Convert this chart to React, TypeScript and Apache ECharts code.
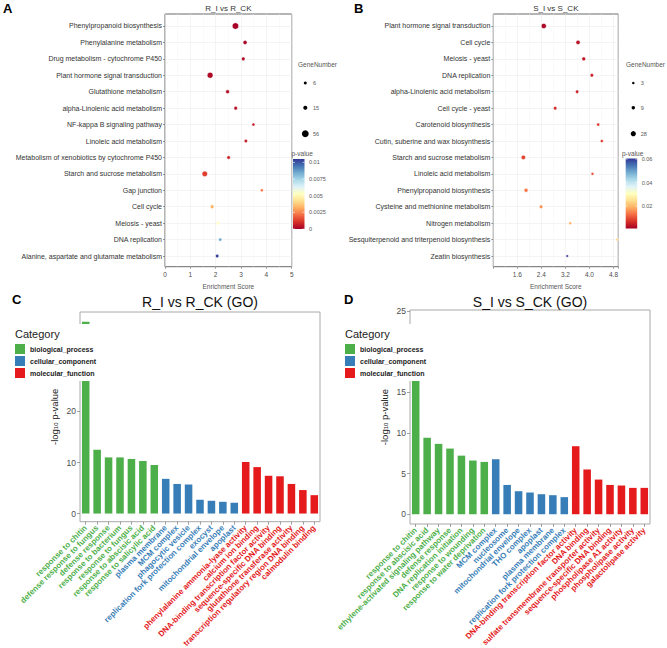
import React, { useEffect, useRef } from "react";
import * as echarts from "echarts";

const FONT = "'Liberation Sans', Arial, sans-serif";

// ---------- Panel A: KEGG enrichment, R_I vs R_CK ----------
const aPathways = [
  "Phenylpropanoid biosynthesis",
  "Phenylalanine metabolism",
  "Drug metabolism - cytochrome P450",
  "Plant hormone signal transduction",
  "Glutathione metabolism",
  "alpha-Linolenic acid metabolism",
  "NF-kappa B signaling pathway",
  "Linoleic acid metabolism",
  "Metabolism of xenobiotics by cytochrome P450",
  "Starch and sucrose metabolism",
  "Gap junction",
  "Cell cycle",
  "Meiosis - yeast",
  "DNA replication",
  "Alanine, aspartate and glutamate metabolism",
];
const aScore = [2.78, 3.16, 3.09, 1.78, 2.47, 2.79, 3.49, 3.19, 2.51, 1.57, 3.82, 1.86, 2.09, 2.18, 2.06];
const aPValue = [0.00005, 0.0001, 0.0002, 0.0002, 0.0003, 0.0004, 0.0006, 0.0006, 0.0008, 0.0013, 0.0022, 0.0033, 0.0052, 0.0085, 0.0105];
const aGeneNumber = [50, 15, 10, 40, 12, 10, 6, 8, 10, 35, 6, 12, 7, 8, 8];
const aSizeBreaks = [6, 15, 56];
const aColorBreaks = [0, 0.0025, 0.005, 0.0075, 0.01];
const aColorLabels = ["0", "0.0025", "0.005", "0.0075", "0.01"];

// ---------- Panel B: KEGG enrichment, S_I vs S_CK ----------
const bPathways = [
  "Plant hormone signal transduction",
  "Cell cycle",
  "Meiosis - yeast",
  "DNA replication",
  "alpha-Linolenic acid metabolism",
  "Cell cycle - yeast",
  "Carotenoid biosynthesis",
  "Cutin, suberine and wax biosynthesis",
  "Starch and sucrose metabolism",
  "Linoleic acid metabolism",
  "Phenylpropanoid biosynthesis",
  "Cysteine and methionine metabolism",
  "Nitrogen metabolism",
  "Sesquiterpenoid and triterpenoid biosynthesis",
  "Zeatin biosynthesis",
];
const bScore = [2.48, 3.62, 3.81, 4.08, 3.59, 2.86, 4.29, 4.41, 1.8, 4.1, 1.89, 2.39, 3.36, 4.92, 3.26];
const bPValue = [0.002, 0.003, 0.004, 0.005, 0.005, 0.006, 0.007, 0.008, 0.009, 0.01, 0.014, 0.016, 0.019, 0.023, 0.0605];
const bGeneNumber = [28, 16, 12, 9, 8, 9, 6, 6, 18, 5, 14, 10, 5, 4, 3];
const bSizeBreaks = [3, 9, 28];
const bColorBreaks = [0.02, 0.04, 0.06];
const bColorLabels = ["0.02", "0.04", "0.06"];

// ---------- Panel C: GO enrichment, R_I vs R_CK ----------
const cTerms = [
  "response to chitin",
  "defense response to fungus",
  "defense response",
  "response to bacterium",
  "response to fungus",
  "response to abscisic acid",
  "response to salicylic acid",
  "plasma membrane",
  "MCM complex",
  "phagocytic vesicle",
  "replication fork protection complex",
  "exocyst",
  "mitochondrial envelope",
  "apoplast",
  "phenylalanine ammonia-lyase activity",
  "calcium ion binding",
  "DNA-binding transcription factor activity",
  "sequence-specific DNA binding",
  "glutathione transferase activity",
  "transcription regulatory region DNA binding",
  "calmodulin binding",
];
const cGroup = ["bp", "bp", "bp", "bp", "bp", "bp", "bp", "cc", "cc", "cc", "cc", "cc", "cc", "cc", "mf", "mf", "mf", "mf", "mf", "mf", "mf"];
const cValue = [37.6, 12.5, 11.0, 11.0, 10.7, 10.3, 9.5, 6.8, 5.8, 5.7, 2.7, 2.5, 2.3, 2.1, 10.1, 9.1, 7.4, 7.3, 5.8, 4.6, 3.6];
const cYTicks = [0, 10, 20, 30];
const cYLabels = [0, 10, 20]; // the 30 label sits under the legend box

// ---------- Panel D: GO enrichment, S_I vs S_CK ----------
const dTerms = [
  "response to chitin",
  "response to abscisic acid",
  "ethylene-activated signaling pathway",
  "defense response",
  "DNA replication initiation",
  "response to wounding",
  "response to water deprivation",
  "MCM complex",
  "nucleosome",
  "mitochondrial envelope",
  "THO complex",
  "apoplast",
  "plasma membrane",
  "replication fork protection complex",
  "DNA-binding transcription factor activity",
  "DNA binding",
  "sulfate transmembrane transporter activity",
  "sequence-specific DNA binding",
  "phospholipase A1 activity",
  "phospholipase activity",
  "galactolipase activity",
];
const dGroup = ["bp", "bp", "bp", "bp", "bp", "bp", "bp", "cc", "cc", "cc", "cc", "cc", "cc", "cc", "mf", "mf", "mf", "mf", "mf", "mf", "mf"];
const dValue = [23.0, 9.4, 8.65, 8.07, 7.2, 6.6, 6.43, 6.76, 3.6, 2.83, 2.67, 2.46, 2.34, 2.1, 8.36, 5.5, 4.26, 3.6, 3.53, 3.24, 3.24];
const dYTicks = [0, 5, 10, 15, 20, 25];
const dYLabels = [0, 5, 10, 15, 25]; // the 20 label sits under the legend box

const groupKeys = ["bp", "cc", "mf"];
const groupNames: Record<string, string> = {
  bp: "biological_process",
  cc: "cellular_component",
  mf: "molecular_function",
};
const GROUP_COLOR: Record<string, string> = { bp: "#4DAF4A", cc: "#377EB8", mf: "#E41A1C" };
const RDYLBU = ["#A50026", "#D73027", "#F46D43", "#FDAE61", "#FEE090", "#FFFFBF", "#E0F3F8", "#ABD9E9", "#74ADD1", "#4575B4", "#313695"];

const dotSize = (n: number) => 1.2 + 0.75 * Math.sqrt(n);

function buildOption() {
  const aGrid = { left: 165, top: 14, width: 126.7, height: 252.7 };
  const bGrid = { left: 493.3, top: 14, width: 125, height: 252.7 };
  const cGrid = { left: 80, top: 312, width: 240, height: 209.7 };
  const dGrid = { left: 410, top: 310, width: 240, height: 214 };

  const gridBase = { show: true, borderWidth: 1, backgroundColor: "#fff", containLabel: false, outerBoundsMode: "none" };
  const scatterGrid = (g: any) => ({ ...g, ...gridBase, borderColor: "#6b6b6b" });
  const barGrid = (g: any) => ({ ...g, ...gridBase, borderColor: "#a8a8a8" });

  const scatterY = (idx: number, names: string[]) => {
    const rows = names.map((_, i) => i);
    return {
      type: "value",
      gridIndex: idx,
      inverse: true,
      min: -0.73,
      max: names.length - 1 + 0.65,
      axisLine: { show: false, onZero: false },
      axisTick: { show: true, length: 2, customValues: rows, lineStyle: { color: "#555", width: 0.6 } },
      axisLabel: {
        customValues: rows,
        formatter: (v: number) => names[Math.round(v)] ?? "",
        fontSize: 7,
        color: "#333",
        fontFamily: FONT,
        margin: 3,
      },
      splitLine: { show: true, lineStyle: { color: "#ececec", width: 0.6 } },
    };
  };

  const scatterX = (idx: number, min: number, max: number, interval: number) => ({
    type: "value",
    gridIndex: idx,
    min,
    max,
    interval,
    position: "bottom",
    name: "Enrichment Score",
    nameLocation: "middle",
    nameGap: 16,
    nameTextStyle: { fontSize: 6.5, color: "#555", fontFamily: FONT },
    axisLine: { show: false, onZero: false },
    axisTick: { show: true, length: 2, lineStyle: { color: "#555", width: 0.6 } },
    axisLabel: {
      fontSize: 6.5,
      color: "#4d4d4d",
      fontFamily: FONT,
      margin: 4,
      formatter: (v: number) => {
        const k = v / interval;
        if (Math.abs(k - Math.round(k)) > 1e-6) return "";
        if (idx === 1 && v < 1) return "";
        return idx === 1 ? v.toFixed(1) : String(Math.round(v));
      },
    },
    splitLine: { show: true, lineStyle: { color: "#ececec", width: 0.6 } },
    minorTick: { show: false, splitNumber: 2 },
    minorSplitLine: { show: true, lineStyle: { color: "#f4f4f4", width: 0.5 } },
  });

  const barX = (idx: number, terms: string[], groups: string[]) => ({
    type: "category",
    gridIndex: idx,
    data: terms,
    position: "bottom",
    axisLine: { show: false, onZero: false },
    axisTick: { show: true, alignWithLabel: true, length: 3, lineStyle: { color: "#666", width: 0.6 } },
    axisLabel: {
      interval: 0,
      rotate: 45,
      fontSize: 8,
      fontWeight: "bold",
      fontFamily: FONT,
      margin: 5,
      hideOverlap: false,
      color: (_v: any, i: number) => GROUP_COLOR[groups[i]],
    },
  });

  const barY = (idx: number, min: number, max: number, ticks: number[], labels: number[]) => ({
    type: "value",
    gridIndex: idx,
    min,
    max,
    name: "-log{s|10} p-value",
    nameLocation: "middle",
    nameRotate: 90,
    nameGap: 21,
    nameTextStyle: {
      fontSize: 9.5,
      color: "#222",
      fontFamily: FONT,
      rich: { s: { fontSize: 6, color: "#222", fontFamily: FONT, verticalAlign: "bottom", padding: [3, 0, 0, 0] } },
    },
    axisLine: { show: false },
    axisTick: { show: true, length: 3, customValues: ticks, lineStyle: { color: "#666", width: 0.6 } },
    axisLabel: { customValues: labels, fontSize: 8.5, color: "#4d4d4d", fontFamily: FONT, margin: 4 },
    splitLine: { show: false },
  });

  const scatterSeries = (idx: number, score: number[], pv: number[], gn: number[]) => ({
    type: "scatter",
    xAxisIndex: idx,
    yAxisIndex: idx,
    data: score.map((s, i) => [s, i, pv[i], gn[i]]),
    symbolSize: (v: number[]) => dotSize(v[3]),
    itemStyle: { borderColor: "#ffffff", borderWidth: 0.5, opacity: 1 },
    clip: false,
  });

  const barSeries = (idx: number, values: number[], groups: string[], stack: string) =>
    groupKeys.map((g) => ({
      type: "bar",
      name: groupNames[g],
      xAxisIndex: idx,
      yAxisIndex: idx,
      stack,
      barWidth: "66%",
      itemStyle: { color: GROUP_COLOR[g] },
      data: values.map((v, i) => (groups[i] === g ? v : "-")),
    }));

  const legendC = (left: number) => ({
    orient: "vertical",
    left,
    top: 324,
    data: groupKeys.map((g) => groupNames[g]),
    icon: "rect",
    itemWidth: 10,
    itemHeight: 10,
    itemGap: 2,
    backgroundColor: "#ffffff",
    padding: [20, 6, 3, 5],
    selectedMode: false,
    textStyle: { fontSize: 7, fontWeight: "bold", color: "#222", fontFamily: FONT },
    z: 10,
  });

  const txt = (x: number, y: number, text: string, font: string, fill: string, align = "left", vAlign = "middle") => ({
    type: "text",
    x,
    y,
    z: 100,
    style: { text, font, fill, align, textAlign: align, verticalAlign: vAlign, textVerticalAlign: vAlign },
  });

  const sizeLegend = (dotX: number, labelX: number, titleX: number, breaks: number[]) => {
    const ys = [83, 107.7, 133.7];
    const els: any[] = [txt(titleX, 64, "GeneNumber", `6.5px ${FONT}`, "#555")];
    breaks.forEach((b, i) => {
      els.push({ type: "circle", z: 100, shape: { cx: dotX, cy: ys[i], r: dotSize(b) / 2 }, style: { fill: "#000" } });
      els.push(txt(labelX, ys[i], String(b), `5.5px ${FONT}`, "#555"));
    });
    return els;
  };

  const colorBar = (x: number, top: number, bottom: number, vmin: number, vmax: number, breaks: number[], labels: string[], titleX: number) => {
    const w = 11.5;
    const els: any[] = [txt(titleX, 153.5, "p-value", `6.5px ${FONT}`, "#555")];
    els.push({
      type: "rect",
      z: 100,
      shape: { x, y: top, width: w, height: bottom - top },
      style: {
        fill: {
          type: "linear",
          x: 0,
          y: 1,
          x2: 0,
          y2: 0,
          colorStops: RDYLBU.map((c, i) => ({ offset: i / (RDYLBU.length - 1), color: c })),
        },
      },
    });
    breaks.forEach((b, i) => {
      const y = bottom - ((b - vmin) / (vmax - vmin)) * (bottom - top);
      els.push({ type: "line", z: 101, shape: { x1: x, y1: y, x2: x + 2, y2: y }, style: { stroke: "#fff", lineWidth: 0.6 } });
      els.push({ type: "line", z: 101, shape: { x1: x + w - 2, y1: y, x2: x + w, y2: y }, style: { stroke: "#fff", lineWidth: 0.6 } });
      els.push(txt(x + w + 4.5, y, labels[i], `5.5px ${FONT}`, "#555"));
    });
    return els;
  };

  const graphic: any[] = [
    txt(3, 2, "A", `bold 13px ${FONT}`, "#000", "left", "top"),
    txt(354, 2, "B", `bold 13px ${FONT}`, "#000", "left", "top"),
    txt(12, 293, "C", `bold 13px ${FONT}`, "#000", "left", "top"),
    txt(344, 293, "D", `bold 13px ${FONT}`, "#000", "left", "top"),
    txt(aGrid.left + aGrid.width / 2, 8, "R_I vs R_CK", `8px ${FONT}`, "#333", "center"),
    txt(bGrid.left + bGrid.width / 2, 8, "S_I vs S_CK", `8px ${FONT}`, "#333", "center"),
    txt(200, 302, "R_I vs R_CK (GO)", `14px ${FONT}`, "#111", "center"),
    txt(530, 302, "S_I vs S_CK (GO)", `14px ${FONT}`, "#111", "center"),
    txt(15, 334, "Category", `11px ${FONT}`, "#222"),
    txt(345, 334, "Category", `11px ${FONT}`, "#222"),
    ...sizeLegend(305.3, 313, 298, aSizeBreaks),
    ...sizeLegend(633.3, 640.7, 626, bSizeBreaks),
    ...colorBar(293, 159, 229, 0, 0.0105, aColorBreaks, aColorLabels, 291.5),
    ...colorBar(625.7, 158.5, 228.5, 0.001, 0.0605, bColorBreaks, bColorLabels, 622),
  ];

  return {
    animation: false,
    backgroundColor: "#ffffff",
    textStyle: { fontFamily: FONT },
    grid: [scatterGrid(aGrid), scatterGrid(bGrid), barGrid(cGrid), barGrid(dGrid)],
    xAxis: [
      scatterX(0, 0, 5, 1),
      scatterX(1, 0.8, 4.96, 0.8),
      barX(2, cTerms, cGroup),
      barX(3, dTerms, dGroup),
    ],
    yAxis: [
      scatterY(0, aPathways),
      scatterY(1, bPathways),
      barY(2, -1.6, 39.5, cYTicks, cYLabels),
      barY(3, -1.2, 25.1, dYTicks, dYLabels),
    ],
    visualMap: [
      { type: "continuous", show: false, seriesIndex: 0, dimension: 2, min: 0, max: 0.0105, inRange: { color: RDYLBU } },
      { type: "continuous", show: false, seriesIndex: 1, dimension: 2, min: 0.001, max: 0.0605, inRange: { color: RDYLBU } },
    ],
    legend: [legendC(10), legendC(340)],
    series: [
      scatterSeries(0, aScore, aPValue, aGeneNumber),
      scatterSeries(1, bScore, bPValue, bGeneNumber),
      ...barSeries(2, cValue, cGroup, "C"),
      ...barSeries(3, dValue, dGroup, "D"),
    ],
    graphic,
  };
}

export default function App() {
  const ref = useRef<HTMLDivElement>(null);
  useEffect(() => {
    if (!ref.current) return;
    const chart = echarts.init(ref.current, undefined, { renderer: "svg" });
    chart.setOption(buildOption() as any);
    return () => chart.dispose();
  }, []);
  return <div ref={ref} style={{ position: "absolute", left: 0, top: 0, width: 667, height: 648 }} />;
}
